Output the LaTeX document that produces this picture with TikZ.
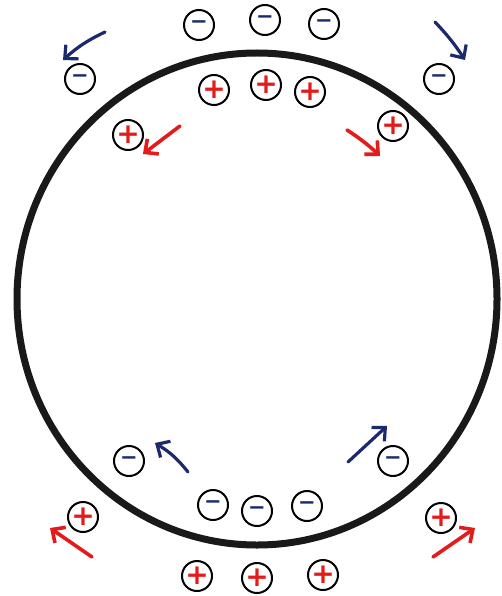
\documentclass[tikz,border=0pt]{standalone}
\usepackage{fontspec}
\newfontfamily\signfont{DejaVu Sans}[BoldFont={DejaVu Sans Bold}]
\usetikzlibrary{arrows.meta}
\definecolor{negblue}{HTML}{1B2A6B}
\definecolor{posred}{HTML}{E31B1B}
\tikzset{
  charge/.style={circle,draw=black,line width=2pt,minimum size=30pt,inner sep=0pt},
  negcharge/.style={charge,text=negblue,font=\signfont\bfseries\fontsize{21}{21}\selectfont},
  poscharge/.style={charge,text=posred,font=\signfont\bfseries\fontsize{28}{28}\selectfont},
  barrow/.style={draw=negblue,line width=3.2pt,line cap=round,-{Straight Barb[length=10pt,width=19pt,line width=3.2pt]}},
  rarrow/.style={draw=posred,line width=3.6pt,line cap=round,-{Straight Barb[length=10pt,width=19pt,line width=3.6pt]}},
}
\begin{document}
\begin{tikzpicture}[x=1pt,y=-1pt]
\useasboundingbox[fill=white] (0,0) rectangle (501,596);
\draw[line width=7pt,color=black!90] (257,299) ellipse [x radius=240pt, y radius=246pt];
% top
\node[negcharge] (n1) at (199,25) {−};
\node[negcharge] (n2) at (265,20) {−};
\node[negcharge] (n3) at (324,24) {−};
\node[negcharge] (n4) at (80,79) {−};
\node[negcharge] (n5) at (439,79) {−};
\node[poscharge] (p1) at (214,90) {+};
\node[poscharge] (p2) at (266,85) {+};
\node[poscharge] (p3) at (310,92) {+};
\node[poscharge] (p4) at (128,135) {+};
\node[poscharge] (p5) at (393,126) {+};
% bottom
\node[negcharge] (n6) at (129,461) {−};
\node[negcharge] (n7) at (393,461) {−};
\node[negcharge] (n8) at (213,505) {−};
\node[negcharge] (n9) at (257,511) {−};
\node[negcharge] (n10) at (307,506) {−};
\node[poscharge] (p6) at (83,517) {+};
\node[poscharge] (p7) at (441,518) {+};
\node[poscharge] (p8) at (197,576) {+};
\node[poscharge] (p9) at (257,578) {+};
\node[poscharge] (p10) at (323,575) {+};
% arrows
\draw[barrow] (105,32) to[bend right=8] (63,60);
\draw[barrow] (435,22) to[bend left=5] (465,60);
\draw[rarrow] (180,126) -- (143,154);
\draw[rarrow] (347,130) to[bend left=5] (380,156);
\draw[barrow] (188,472) to[bend right=10] (155,443);
\draw[barrow] (348,462) -- (387,426);
\draw[rarrow] (92,557) -- (50,528);
\draw[rarrow] (433,557) -- (475,528);
\end{tikzpicture}
\end{document}
